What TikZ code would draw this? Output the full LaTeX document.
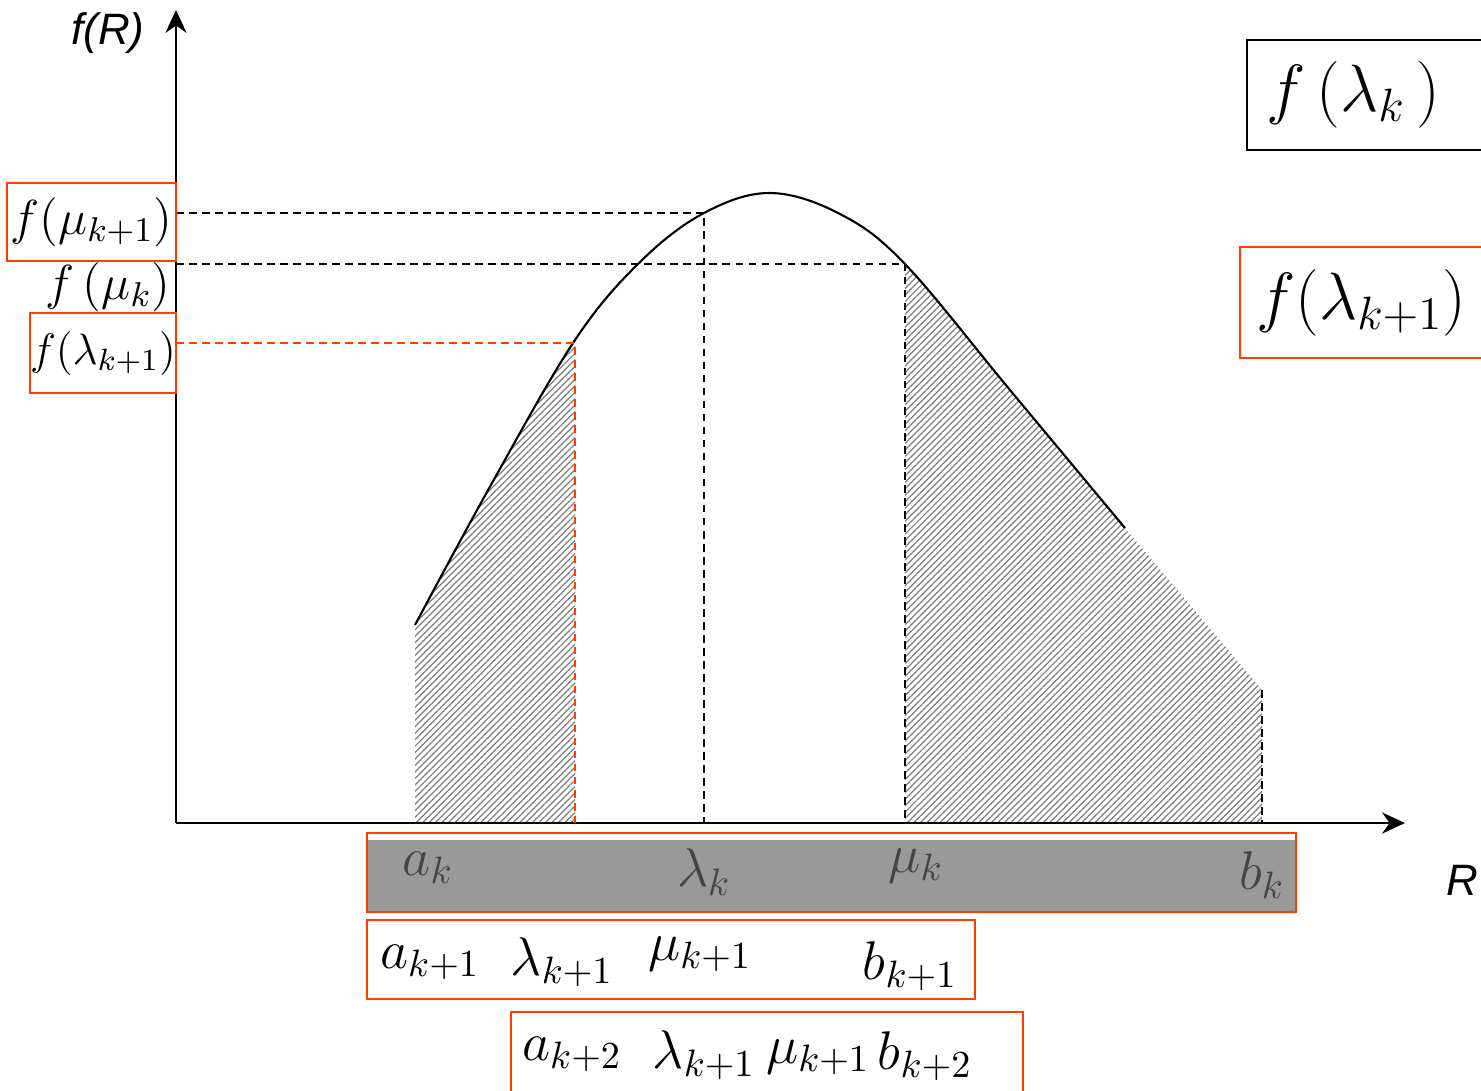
\RequirePackage{fix-cm}
\documentclass[tikz,border=0pt]{standalone}
\usepackage{fontspec}
\setsansfont{Liberation Sans}
\usetikzlibrary{arrows.meta,patterns.meta}
\definecolor{boxred}{RGB}{255,61,0}
\definecolor{bandgray}{RGB}{153,153,153}
\definecolor{labelgray}{RGB}{68,68,68}
\definecolor{hatchgray}{RGB}{125,125,125}
\begin{document}
\begin{tikzpicture}[
    x=0.01cm, y=-0.01cm,
    axis/.style={line width=0.6pt, -{Stealth[length=6.5pt, width=6pt]}},
    curve/.style={line width=0.6pt},
    guide/.style={line width=0.45pt, dash pattern=on 2.2pt off 1.5pt},
    redguide/.style={guide, draw=boxred},
    hatch/.style={pattern={Lines[angle=45, distance=1.3pt, line width=0.35pt]}, pattern color=hatchgray},
    redbox/.style={draw=boxred, line width=0.6pt, inner sep=0pt},
    blackbox/.style={draw=black, line width=0.6pt, inner sep=0pt},
    lbl/.style={font=\fontsize{15.5}{18}\selectfont, inner sep=0pt},
    sidelbl/.style={font=\fontsize{14}{17}\selectfont},
    biglbl/.style={font=\fontsize{19}{23}\selectfont},
    axlbl/.style={font=\fontsize{12.5}{15}\selectfont\sffamily\itshape, inner sep=0pt}
]
\useasboundingbox (0,0) rectangle (1481,1090);
% hatched areas under the curve
\begin{scope}
  \clip (415,0) rectangle (575,823);
  \fill[hatch] (415,823) -- plot[smooth, tension=0.6] coordinates {(415,625) (492,483) (575,340) (640,262) (704,213) (770,193) (840,214) (905,264) (1010,390) (1125,528)} -- (1262,690) -- (1262,823) -- cycle;
\end{scope}
\begin{scope}
  \clip (905,0) rectangle (1262,823);
  \fill[hatch] (415,823) -- plot[smooth, tension=0.6] coordinates {(415,625) (492,483) (575,340) (640,262) (704,213) (770,193) (840,214) (905,264) (1010,390) (1125,528)} -- (1262,690) -- (1262,823) -- cycle;
\end{scope}
\draw[curve] plot[smooth, tension=0.6] coordinates {(415,625) (492,483) (575,340) (640,262) (704,213) (770,193) (840,214) (905,264) (1010,390) (1125,528)};
% axes
\coordinate (O) at (176,823);
\coordinate (ytip) at (176,10);
\coordinate (xtip) at (1405,823);
\draw[axis] (O) -- (ytip);
\draw[axis] (O) -- (xtip);
\node[axlbl] (fR) at (108,33) {f(R)};
\node[axlbl] (Rlbl) at (1462,880) {R};
% guide lines
\coordinate (lk) at (704,213);
\coordinate (mk) at (905,264);
\coordinate (lk1) at (575,343);
\coordinate (bk) at (1262,690);
\draw[guide] (O |- lk) -- (lk) -- (lk |- O);
\draw[guide] (O |- mk) -- (mk) -- (mk |- O);
\draw[redguide] (O |- lk1) -- (lk1) -- (lk1 |- O);
\draw[guide] (bk) -- (bk |- O);
% values on the f(R) axis
\node[redbox, sidelbl, minimum width=1.69cm, minimum height=0.78cm] (fmu1) at (91.5,222) {$f(\mu_{k+1})$};
\node[sidelbl, inner sep=0pt] (fmu) at (108,287) {$f\,(\mu_k)$};
\node[redbox, font=\fontsize{12.5}{15}\selectfont, minimum width=1.42cm, minimum height=0.80cm] (flam1) at (103,353) {$f(\lambda_{k+1})$};
% values on the right
\node[blackbox, biglbl, anchor=west, minimum height=1.10cm, text width=2.4cm, inner xsep=0.19cm] (flamk) at (1246,95) {$f\,(\lambda_k\,)$};
\node[redbox, biglbl, anchor=west, minimum height=1.11cm, text width=2.5cm, inner xsep=0.16cm] (flamkr) at (1239,302.5) {$f(\lambda_{k+1})$};
% interval k
\fill[bandgray] (368,840) rectangle (1295,912);
\node[redbox, minimum width=9.29cm, minimum height=0.79cm] (band) at (831.5,872.5) {};
\node[lbl, text=labelgray] (ak) at (428,868) {$a_k$};
\node[lbl, text=labelgray] (lamk) at (704,872) {$\lambda_k$};
\node[lbl, text=labelgray] (muk) at (916,866) {$\mu_k$};
\node[lbl, text=labelgray] (bkl) at (1262,875) {$b_k$};
% interval k+1
\node[redbox, minimum width=6.08cm, minimum height=0.79cm] (rowa) at (671,959.5) {};
\node[lbl] (ak1) at (430,962) {$a_{k+1}$};
\node[lbl] (lamk1) at (562,962) {$\lambda_{k+1}$};
\node[lbl] (muk1) at (700,954) {$\mu_{k+1}$};
\node[lbl] (bk1) at (910,966) {$b_{k+1}$};
% interval k+2
\node[redbox, minimum width=5.12cm, minimum height=0.9cm] (rowb) at (767,1057) {};
\node[lbl] (ak2) at (572,1054) {$a_{k+2}$};
\node[lbl] (lamk2) at (704,1055) {$\lambda_{k+1}$};
\node[lbl] (muk2) at (818,1057) {$\mu_{k+1}$};
\node[lbl] (bk2) at (925,1056) {$b_{k+2}$};
\end{tikzpicture}
\end{document}
